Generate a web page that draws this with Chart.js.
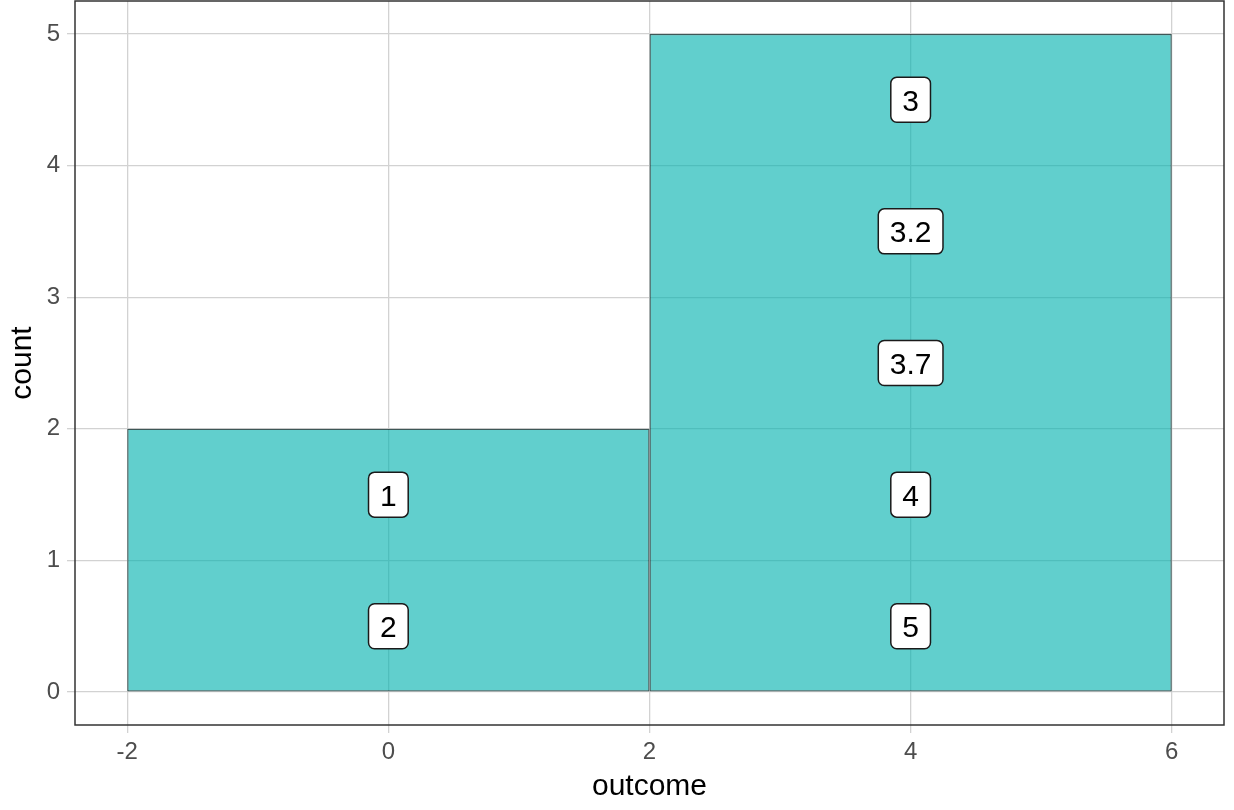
<!DOCTYPE html>
<html lang="en">
<head>
    <meta charset="UTF-8">
    <title>outcome histogram</title>
    <script src="https://cdn.jsdelivr.net/npm/chart.js"></script>
    <style>
        body { margin: 0; background: #fff; }
        #wrap { width: 1234px; height: 810px; }
    </style>
</head>
<body>
    <div id="wrap"><canvas id="myChart"></canvas></div>

    <script>
        // histogram bins (centre of each bin) and counts
        const binCenters = [0, 4];
        const binCounts = [2, 5];

        // one label per observation, stacked inside its bin
        const labelX = [0, 0, 4, 4, 4, 4, 4];
        const labelY = [0.5, 1.5, 0.5, 1.5, 2.5, 3.5, 4.5];
        const labelText = ['2', '1', '5', '4', '3.7', '3.2', '3'];

        // axis ticks
        const xTicks = [-2, 0, 2, 4, 6];
        const yTicks = [0, 1, 2, 3, 4, 5];

        const gridColor = '#D2D2D2';
        const tickFont = { family: 'Liberation Sans', size: 24 };
        const titleFont = { family: 'Liberation Sans', size: 30, lineHeight: 1 };

        // panel border, like ggplot's theme_bw
        const panelBorder = {
            id: 'panelBorder',
            afterDraw(chart) {
                const { ctx, chartArea: a } = chart;
                ctx.save();
                ctx.strokeStyle = '#333333';
                ctx.lineWidth = 1.5;
                ctx.strokeRect(a.left, a.top, a.right - a.left, a.bottom - a.top);
                ctx.restore();
            }
        };

        // white rounded boxes with the value, drawn at the label points
        const labelBoxes = {
            id: 'labelBoxes',
            afterDatasetsDraw(chart) {
                const meta = chart.getDatasetMeta(1);
                const ctx = chart.ctx;
                ctx.save();
                ctx.font = '30px "Liberation Sans"';
                meta.data.forEach((pt, i) => {
                    const txt = labelText[i];
                    const w = ctx.measureText(txt).width + 23;
                    const h = 45;
                    ctx.beginPath();
                    ctx.roundRect(pt.x - w / 2, pt.y - h / 2, w, h, 6);
                    ctx.fillStyle = '#ffffff';
                    ctx.fill();
                    ctx.lineWidth = 1.5;
                    ctx.strokeStyle = '#1a1a1a';
                    ctx.stroke();
                    ctx.fillStyle = '#000000';
                    ctx.textAlign = 'center';
                    ctx.textBaseline = 'alphabetic';
                    ctx.fillText(txt, pt.x, pt.y + 11);
                });
                ctx.restore();
            }
        };

        const ctx = document.getElementById('myChart').getContext('2d');
        const myChart = new Chart(ctx, {
            type: 'bar',
            data: {
                datasets: [{
                    label: 'count',
                    data: binCenters.map((x, i) => ({ x: x, y: binCounts[i] })),
                    backgroundColor: 'rgba(0, 178, 175, 0.62)',
                    borderColor: 'rgba(0, 35, 35, 0.75)',
                    borderWidth: 1.3,
                    borderSkipped: false,
                    barPercentage: 1,
                    categoryPercentage: 2 // tick spacing is half the bin width
                }, {
                    type: 'scatter',
                    label: 'outcome',
                    data: labelX.map((x, i) => ({ x: x, y: labelY[i] })),
                    pointRadius: 0,
                    pointHoverRadius: 0
                }]
            },
            options: {
                responsive: true,
                maintainAspectRatio: false,
                animation: false,
                layout: { padding: { top: 1, right: 10, left: 0, bottom: 0 } },
                plugins: {
                    legend: { display: false },
                    tooltip: { enabled: false }
                },
                scales: {
                    x: {
                        type: 'linear',
                        min: -2.4,
                        max: 6.4,
                        offset: false,
                        afterBuildTicks: s => { s.ticks = xTicks.map(v => ({ value: v })); },
                        afterFit: s => { s.height = 85; },
                        grid: { color: gridColor, lineWidth: 1.3, tickLength: 8, offset: false, tickColor: gridColor },
                        border: { display: false },
                        ticks: { color: '#4D4D4D', font: tickFont, padding: 5, maxRotation: 0 },
                        title: { display: true, text: 'outcome', color: '#000', font: titleFont, padding: { bottom: 8 } }
                    },
                    y: {
                        min: -0.25,
                        max: 5.25,
                        afterBuildTicks: s => { s.ticks = yTicks.map(v => ({ value: v })); },
                        afterFit: s => {
                            s.width = 75;
                            // labels sit inside the expanded range, no extra room needed
                            s.paddingTop = 0;
                            s.paddingBottom = 0;
                        },
                        grid: { color: gridColor, lineWidth: 1.3, tickLength: 8, tickColor: gridColor },
                        border: { display: false },
                        ticks: { color: '#4D4D4D', font: tickFont, padding: 7 },
                        title: { display: true, text: 'count', color: '#000', font: titleFont, padding: { top: 8 } }
                    }
                }
            },
            plugins: [panelBorder, labelBoxes]
        });
    </script>
</body>
</html>
